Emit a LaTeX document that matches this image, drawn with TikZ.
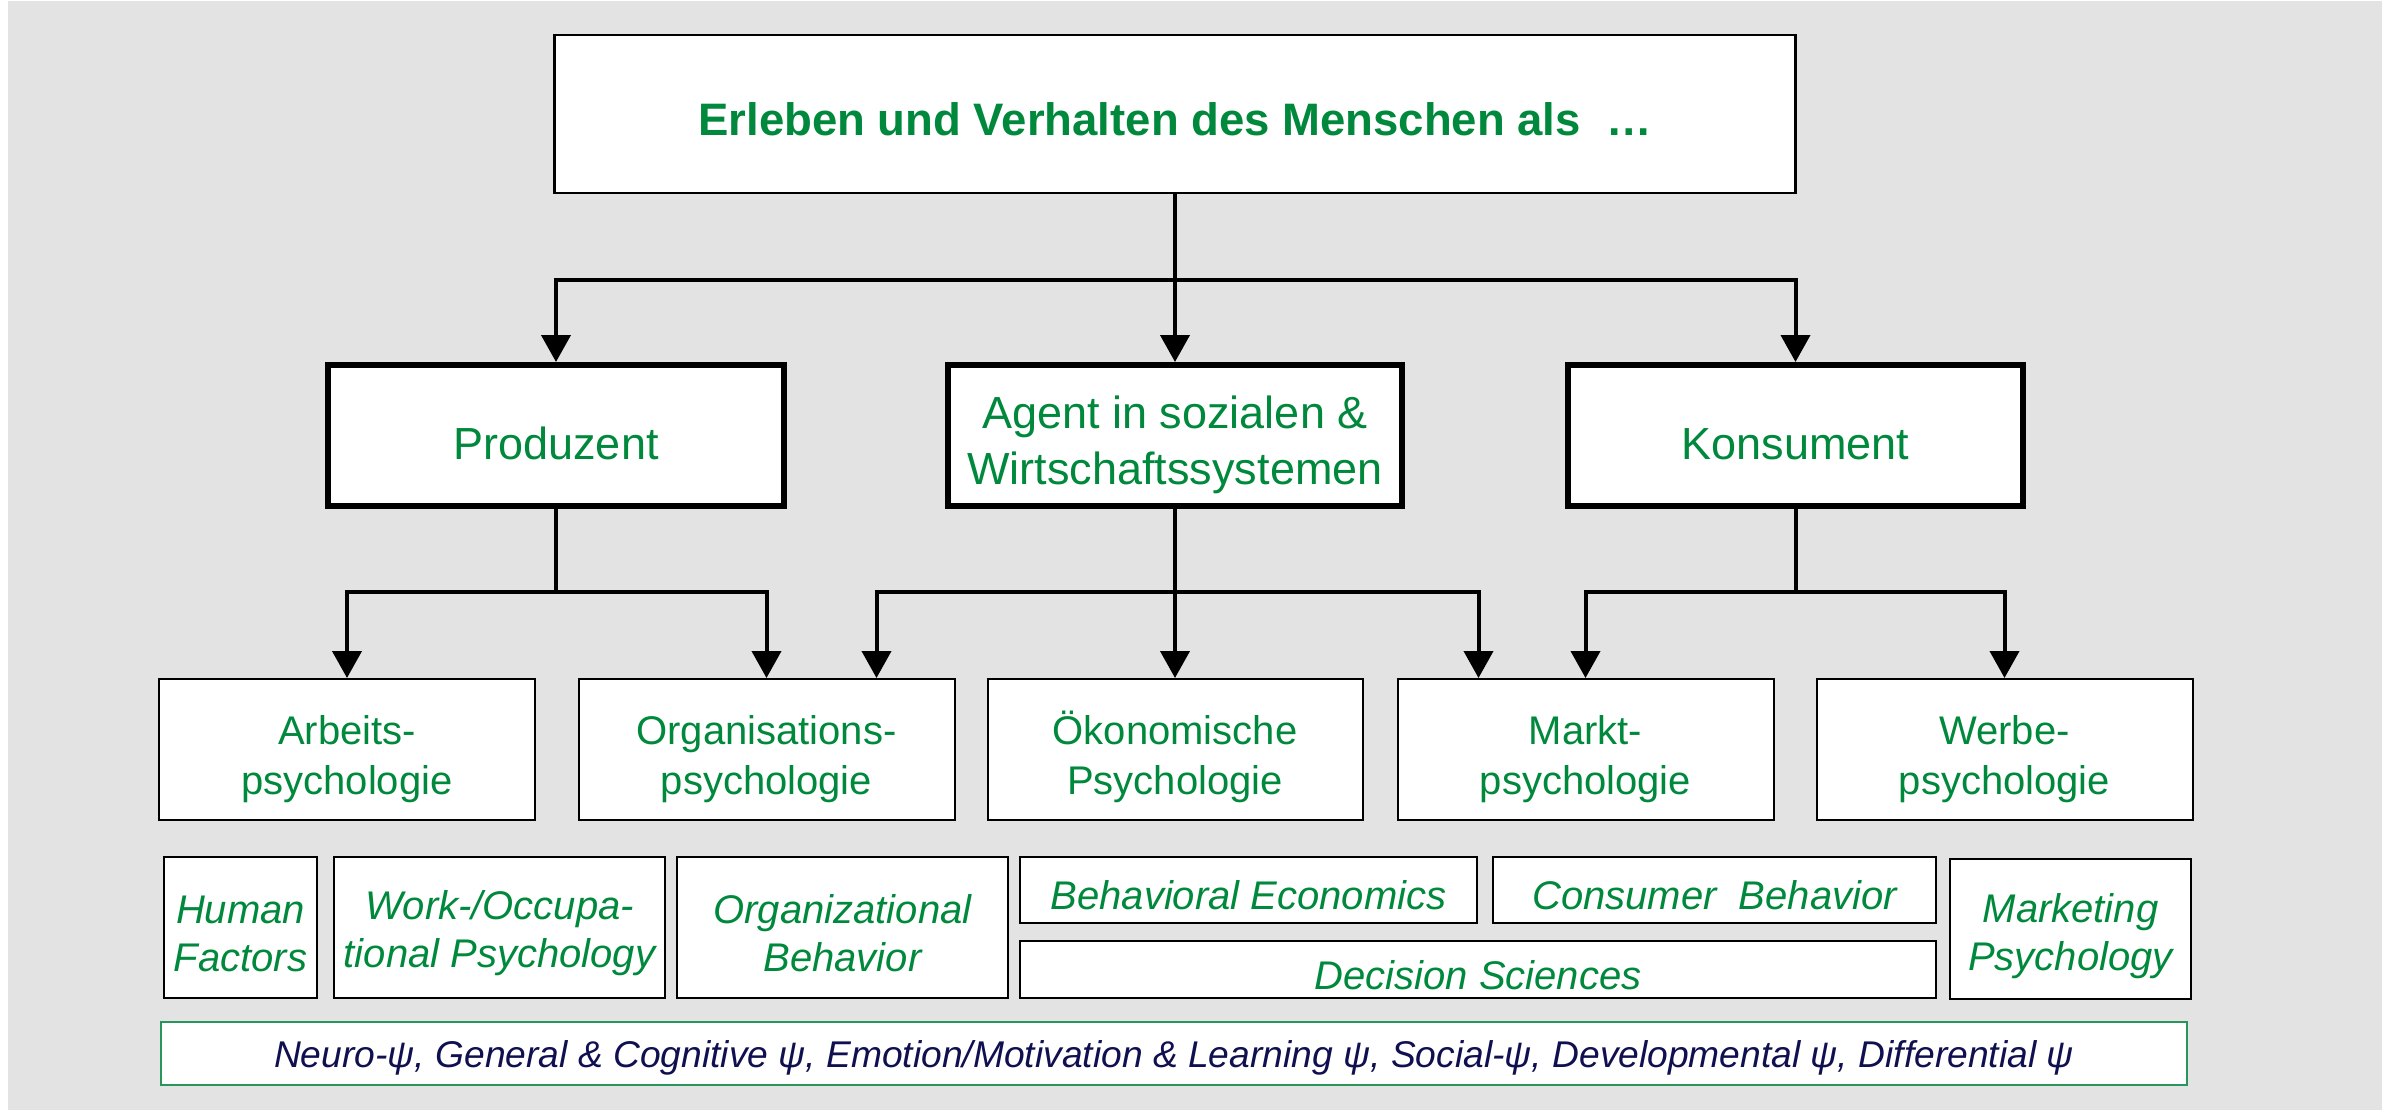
\documentclass[tikz,border=0pt]{standalone}
\usepackage{fontspec}
\setmainfont{Liberation Sans}
\usetikzlibrary{arrows.meta,calc}
\definecolor{bggray}{HTML}{E3E3E3}
\definecolor{txtgreen}{RGB}{0,137,60}
\definecolor{navy}{RGB}{16,16,80}
\definecolor{linegreen}{RGB}{40,150,90}
\newcommand\dropby[1]{\rule{0pt}{\dimexpr\fontcharht\font`\l+#1+#1\relax}}
\begin{document}
\begin{tikzpicture}[x=0.5pt,y=-0.5pt,
  box/.style={draw=black, fill=white, inner sep=0pt, align=center, text=txtgreen},
  topbox/.style={box, line width=1.25pt, font=\bfseries\fontsize{22.75pt}{27pt}\selectfont},
  lvltwo/.style={box, line width=3pt, font=\fontsize{22.5pt}{28pt}\selectfont},
  lvlthree/.style={box, line width=1pt, font=\fontsize{20pt}{25pt}\selectfont},
  lvlfour/.style={box, line width=1pt, font=\itshape\fontsize{20pt}{24pt}\selectfont},
  basebox/.style={draw=linegreen, fill=white, line width=1pt, inner sep=0pt, text=navy, font=\itshape\fontsize{18.6pt}{22pt}\selectfont},
  arr/.style={-{Triangle[width=14.5pt,length=13.5pt]}, line width=2pt, line join=miter}]
% background
\useasboundingbox (0,0) rectangle (2382,1110);
\fill[white] (0,0) rectangle (2382,1110);
\fill[bggray] (8,1) rectangle (2382,1110);
% nodes
\node[topbox, minimum width=620.5pt, minimum height=79pt] (top) at (1175,114) {\dropby{3pt}Erleben und Verhalten des Menschen als\ \ …};
\node[lvltwo, minimum width=228pt, minimum height=70.5pt] (prod) at (556,435.5) {\dropby{4.5pt}Produzent};
\node[lvltwo, minimum width=227pt, minimum height=70.5pt] (agent) at (1175,435.5) {\dropby{5pt}Agent in sozialen \&\\Wirtschaftssystemen};
\node[lvltwo, minimum width=227.5pt, minimum height=70.5pt] (kons) at (1795.5,435.5) {\dropby{4.5pt}Konsument};
\node[lvlthree, minimum width=188pt, minimum height=70.5pt] (arb) at (347,749.5) {\dropby{5pt}Arbeits-\\psychologie};
\node[lvlthree, minimum width=188pt, minimum height=70.5pt] (org) at (766.5,749.5) {\dropby{5pt}Organisations-\\psychologie};
\node[lvlthree, minimum width=187.5pt, minimum height=70.5pt] (oek) at (1175,749.5) {\dropby{5pt}Ökonomische\\Psychologie};
\node[lvlthree, minimum width=188pt, minimum height=70.5pt] (markt) at (1585.5,749.5) {\dropby{5pt}Markt-\\psychologie};
\node[lvlthree, minimum width=188pt, minimum height=70.5pt] (werbe) at (2004.5,749.5) {\dropby{5pt}Werbe-\\psychologie};
\node[lvlfour, minimum width=76.5pt, minimum height=70.5pt] (hf) at (240.5,927.5) {\dropby{3pt}Human\\Factors};
\node[lvlfour, minimum width=165.5pt, minimum height=70.5pt] (work) at (499.5,927.5) {\dropby{3pt}Work-/Occupa-\\tional Psychology};
\node[lvlfour, minimum width=165.5pt, minimum height=70.5pt] (ob) at (842.5,927.5) {\dropby{3pt}Organizational\\Behavior};
\node[lvlfour, minimum width=228.5pt, minimum height=33pt] (be) at (1248.5,890) {\dropby{3pt}Behavioral Economics};
\node[lvlfour, minimum width=221.5pt, minimum height=33pt] (cb) at (1714.5,890) {\dropby{3pt}Consumer\ \ Behavior};
\node[lvlfour, minimum width=458pt, minimum height=28.5pt] (ds) at (1478,969.5) {\dropby{3pt}Decision Sciences};
\node[lvlfour, minimum width=120.5pt, minimum height=70pt] (mp) at (2070.5,929) {\dropby{4pt}Marketing\\Psychology};
\node[basebox, minimum width=1013pt, minimum height=31.5pt] (base) at (1174,1053.5) {\dropby{2.3pt}Neuro-ψ, General \& Cognitive ψ, Emotion/Motivation \& Learning ψ, Social-ψ, Developmental ψ, Differential ψ};
% connectors level 1 -> 2
\coordinate (b1) at (0,280);
\draw[arr] (top.south) -- (top.south |- b1) -| (prod.north);
\draw[arr] (top.south) -- (top.south |- b1) -| (kons.north);
\draw[arr] (top.south) -- (agent.north);
% connectors level 2 -> 3
\coordinate (b2) at (0,592);
\coordinate (orgR) at ($(org.north)+(110,0)$);
\coordinate (marktL) at ($(markt.north)+(-107,0)$);
\draw[arr] (prod.south) -- (prod.south |- b2) -| (arb.north);
\draw[arr] (prod.south) -- (prod.south |- b2) -| (org.north);
\draw[arr] (agent.south) -- (agent.south |- b2) -| (orgR);
\draw[arr] (agent.south) -- (agent.south |- b2) -| (marktL);
\draw[arr] (agent.south) -- (oek.north);
\draw[arr] (kons.south) -- (kons.south |- b2) -| (markt.north);
\draw[arr] (kons.south) -- (kons.south |- b2) -| (werbe.north);
\end{tikzpicture}
\end{document}
